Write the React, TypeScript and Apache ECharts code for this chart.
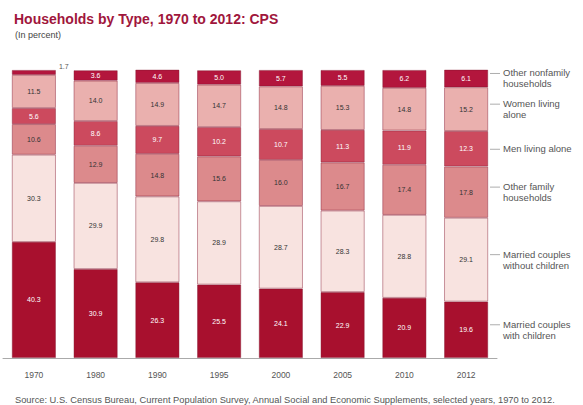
import React, { useEffect, useRef } from "react";
import * as echarts from "echarts";

const years = ["1970", "1980", "1990", "1995", "2000", "2005", "2010", "2012"];
const marriedWithChildren = [40.3, 30.9, 26.3, 25.5, 24.1, 22.9, 20.9, 19.6];
const marriedWithoutChildren = [30.3, 29.9, 29.8, 28.9, 28.7, 28.3, 28.8, 29.1];
const otherFamily = [10.6, 12.9, 14.8, 15.6, 16.0, 16.7, 17.4, 17.8];
const menAlone = [5.6, 8.6, 9.7, 10.2, 10.7, 11.3, 11.9, 12.3];
const womenAlone = [11.5, 14.0, 14.9, 14.7, 14.8, 15.3, 14.8, 15.2];
const otherNonfamily = [1.7, 3.6, 4.6, 5.0, 5.7, 5.5, 6.2, 6.1];

const seriesNames = [
  "Married couples\nwith children",
  "Married couples\nwithout children",
  "Other family\nhouseholds",
  "Men living alone",
  "Women living\nalone",
  "Other nonfamily\nhouseholds",
];
const seriesData = [marriedWithChildren, marriedWithoutChildren, otherFamily, menAlone, womenAlone, otherNonfamily];
const seriesColors = ["#a8102e", "#f8e3e0", "#dc8a8c", "#cc4a5e", "#eab0ae", "#b3163d"];
const labelColors = ["#ffffff", "#333333", "#333333", "#ffffff", "#333333", "#ffffff"];

const FONT = "'Liberation Sans', Arial, sans-serif";

export default function App() {
  const ref = useRef<HTMLDivElement>(null);
  useEffect(() => {
    document.body.style.margin = "0";
    const chart = echarts.init(ref.current!, null, { renderer: "svg" });
    const series = seriesData.map((arr, si) => ({
      name: seriesNames[si],
      type: "bar",
      stack: "total",
      barWidth: 44,
      itemStyle: {
        color: seriesColors[si],
        borderColor: "rgba(130,20,45,0.55)",
        borderWidth: 0.8,
      },
      label: {
        show: true,
        position: "inside",
        fontSize: 7,
        fontFamily: FONT,
        color: labelColors[si],
        formatter: (p: any) => Number(p.value).toFixed(1),
      },
      data: arr.map((v) =>
        si === 5 && v < 2
          ? {
              value: v,
              label: { position: "right", offset: [-2, -6], color: "#555" },
            }
          : v
      ),
    }));
    chart.setOption({
      animation: false,
      backgroundColor: "#ffffff",
      title: [
        {
          text: "Households by Type, 1970 to 2012: CPS",
          left: 9,
          top: 7,
          textStyle: { fontFamily: FONT, fontSize: 14, fontWeight: "bold", color: "#a0163c" },
        },
        {
          text: "(In percent)",
          left: 10,
          top: 25,
          textStyle: { fontFamily: FONT, fontSize: 9, fontWeight: "normal", color: "#444" },
        },
        {
          text: "Source: U.S. Census Bureau, Current Population Survey, Annual Social and Economic Supplements, selected years, 1970 to 2012.",
          left: 10,
          top: 390,
          textStyle: { fontFamily: FONT, fontSize: 9.3, fontWeight: "normal", color: "#555" },
        },
      ],
      grid: { left: 3, width: 494, top: 70, bottom: 47, containLabel: false },
      xAxis: {
        type: "category",
        data: years,
        axisLine: { show: true, lineStyle: { color: "#aaaaaa", width: 1 } },
        axisTick: { show: false },
        axisLabel: { fontFamily: FONT, fontSize: 8.5, color: "#555", margin: 12 },
      },
      yAxis: { type: "value", min: 0, max: 100, show: false, splitLine: { show: false } },
      series,
    });

    const last = years.length - 1;
    const graphics: any[] = [];
    let cum = 0;
    const LH = 11;
    seriesData.forEach((arr, si) => {
      const mid = cum + arr[last] / 2;
      cum += arr[last];
      const p = chart.convertToPixel({ gridIndex: 0 }, [last, mid]) as number[];
      const lines = seriesNames[si].split("\n").length;
      const ty = p[1] - (lines * LH) / 2;
      graphics.push({
        type: "line",
        shape: { x1: 490, y1: ty + 6, x2: 500, y2: ty + 6 },
        style: { stroke: "#999", lineWidth: 0.8 },
      });
      graphics.push({
        type: "text",
        x: 503,
        y: ty,
        style: {
          text: seriesNames[si],
          fontFamily: FONT,
          fontSize: 9.5,
          lineHeight: LH,
          fill: "#555",
        },
      });
    });
    chart.setOption({ graphic: graphics });
    return () => chart.dispose();
  }, []);
  return <div ref={ref} style={{ width: 583, height: 405 }} />;
}
